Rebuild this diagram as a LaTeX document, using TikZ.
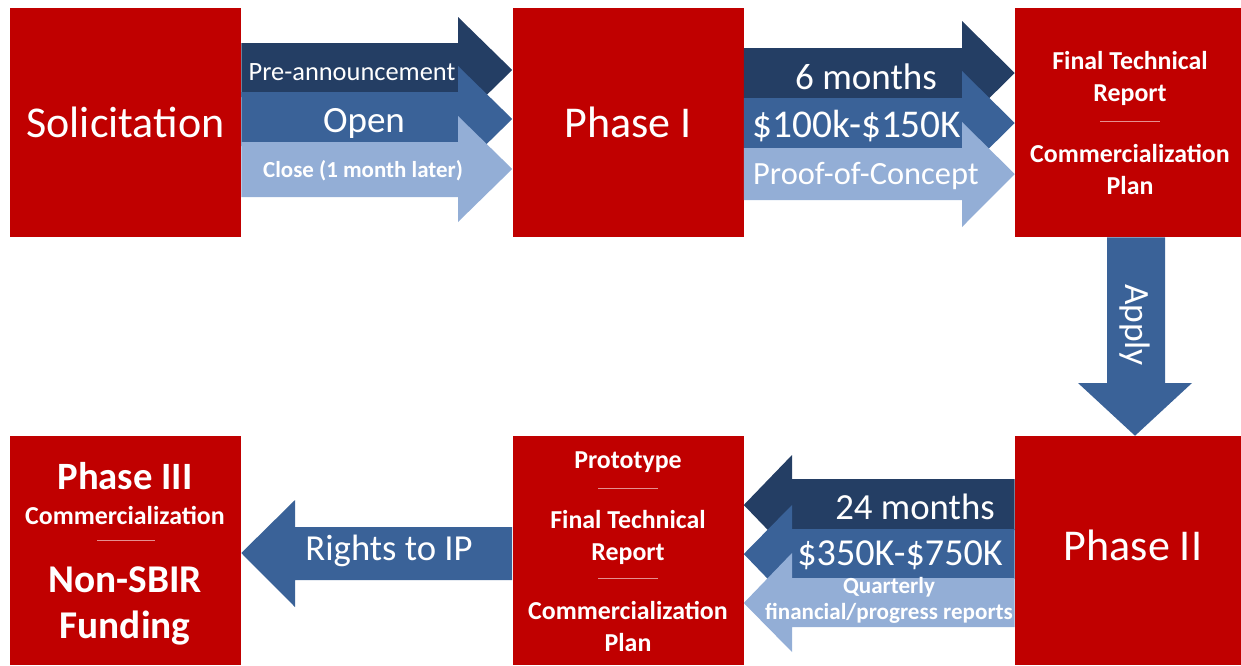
\documentclass[tikz,border=0pt]{standalone}
\usepackage{fontspec}
\setmainfont{Carlito}
\usetikzlibrary{calc}

\definecolor{boxred}{HTML}{C00000}
\definecolor{arrowdark}{HTML}{243E64}
\definecolor{arrowmid}{HTML}{3A6298}
\definecolor{arrowlight}{HTML}{93AED6}
\definecolor{sepline}{HTML}{E59090}

\tikzset{
  redbox/.style={fill=boxred, inner sep=0pt, minimum width=173.25pt, minimum height=171.75pt, text=white},
  redboxwide/.style={redbox, minimum width=172.5pt},
  lbl/.style={text=white, inner sep=0pt, align=center},
  sep/.style={draw=sepline, line width=0.4pt},
}

\begin{document}
\begin{tikzpicture}[x=0.75pt,y=0.75pt,yscale=-1,xscale=1]

\useasboundingbox (0,0) rectangle (1241,665);
\clip (0,0) rectangle (1241,665);

% boxes
\node[redbox, font=\fontsize{33}{40}\selectfont] (sol) at (125.5,122.5) {Solicitation};
\node[redbox, font=\fontsize{33}{40}\selectfont] (ph1) at (628,122.5) {Phase I};
\node[redboxwide] (fin) at (1130,122.5) {};
\node[redbox] (ph3) at (125.5,550.5) {};
\node[redbox] (proto) at (628,550.5) {};
\node[redboxwide] (ph2) at (1130,550.5) {};

% Solicitation -> Phase I
\fill[arrowdark] (sol.east |- 0,43) -- (458,43) -- (458,17) -- (ph1.west |- 0,70) -- (458,123) -- (458,97) -- (sol.east |- 0,97) -- cycle;
\fill[arrowmid] (sol.east |- 0,92) -- (458,92) -- (458,66) -- (ph1.west |- 0,119) -- (458,172) -- (458,146) -- (sol.east |- 0,146) -- cycle;
\fill[arrowlight] (sol.east |- 0,142) -- (458,142) -- (458,116) -- (ph1.west |- 0,169) -- (458,222) -- (458,197) -- (sol.east |- 0,197) -- cycle;

\node[lbl, font=\fontsize{19.8}{24}\selectfont] (pre) at (352,72) {Pre-announcement};
\node[lbl, font=\fontsize{27.8}{32}\selectfont] (open) at (364,123) {Open};
\node[lbl, font=\bfseries\fontsize{17.2}{21}\selectfont] (close) at (363,171) {Close (1 month later)};

% Phase I -> report
\fill[arrowdark] (ph1.east |- 0,48) -- (962,48) -- (962,21) -- (fin.west |- 0,73) -- (962,125) -- (962,98) -- (ph1.east |- 0,98) -- cycle;
\fill[arrowmid] (ph1.east |- 0,98) -- (962,98) -- (962,71) -- (fin.west |- 0,123) -- (962,175) -- (962,148) -- (ph1.east |- 0,148) -- cycle;
\fill[arrowlight] (ph1.east |- 0,148) -- (962,148) -- (962,122) -- (fin.west |- 0,174) -- (962,227) -- (962,200) -- (ph1.east |- 0,200) -- cycle;

\node[lbl, font=\fontsize{27.8}{32}\selectfont] (six) at (866,77) {6 months};
\node[lbl, font=\fontsize{29.5}{32}\selectfont] (fund1) at (857,126) {\$100k-\$150K};
\node[lbl, font=\fontsize{24.3}{28}\selectfont] (poc) at (866,176) {Proof-of-Concept};

\node[lbl, font=\bfseries\fontsize{19.4}{24}\selectfont] (fintxt) at (1130,78) {Final Technical\\Report};
\draw[sep] (1100,121) -- (1160,121);
\node[lbl, font=\bfseries\fontsize{19.4}{24}\selectfont] (comtxt) at (1130,169) {Commercialization\\Plan};

% apply
\fill[arrowmid] (1107,0 |- fin.south) -- (1107,383) -- (1078,383) -- (1135,0 |- ph2.north) -- (1192,383) -- (1165,383) -- (1165,0 |- fin.south) -- cycle;
\node[lbl, rotate=-90, font=\fontsize{26.6}{30}\selectfont] (apply) at (1135,325) {Apply};

% Phase II -> prototype
\fill[arrowdark] (ph2.west |- 0,479) -- (792,479) -- (792,455) -- (proto.east |- 0,505) -- (792,555) -- (792,530) -- (ph2.west |- 0,530) -- cycle;
\fill[arrowmid] (ph2.west |- 0,529) -- (792,529) -- (792,505) -- (proto.east |- 0,554) -- (792,604) -- (792,579) -- (ph2.west |- 0,579) -- cycle;
\fill[arrowlight] (ph2.west |- 0,578) -- (792,578) -- (792,553) -- (proto.east |- 0,603) -- (792,652) -- (792,627) -- (ph2.west |- 0,627) -- cycle;

\node[lbl, font=\fontsize{33}{40}\selectfont] (ph2txt) at (1133,545) {Phase II};
\node[lbl, font=\fontsize{27.6}{32}\selectfont] (two4) at (915,507) {24 months};
\node[lbl, font=\fontsize{28.6}{32}\selectfont] (fund2) at (900,555) {\$350K-\$750K};
\node[lbl, font=\bfseries\fontsize{17.3}{19.5}\selectfont] (qrep) at (889,600) {Quarterly\\financial/progress reports};

\node[lbl, font=\bfseries\fontsize{19.4}{24}\selectfont] (prottxt) at (628,462) {Prototype};
\draw[sep] (598,488) -- (658,488);
\node[lbl, font=\bfseries\fontsize{19.4}{24}\selectfont] (fintxt2) at (628,537) {Final Technical\\Report};
\draw[sep] (598,578) -- (658,578);
\node[lbl, font=\bfseries\fontsize{19.4}{24}\selectfont] (comtxt2) at (628,626) {Commercialization\\Plan};

% prototype -> Phase III
\fill[arrowmid] (proto.west |- 0,527) -- (295,527) -- (295,500) -- (ph3.east |- 0,553) -- (295,607) -- (295,580) -- (proto.west |- 0,580) -- cycle;
\node[lbl, font=\fontsize{27.5}{32}\selectfont] (ip) at (389,551) {Rights to IP};

\node[lbl, font=\bfseries\fontsize{29}{34}\selectfont] (ph3txt) at (125,476) {Phase III};
\node[lbl, font=\bfseries\fontsize{19.4}{24}\selectfont] (comtxt3) at (125,515) {Commercialization};
\draw[sep] (97,540) -- (155,540);
\node[lbl, font=\bfseries\fontsize{29.5}{34.5}\selectfont] (nonsbir) at (125,606) {Non-SBIR\\Funding};

\end{tikzpicture}
\end{document}
